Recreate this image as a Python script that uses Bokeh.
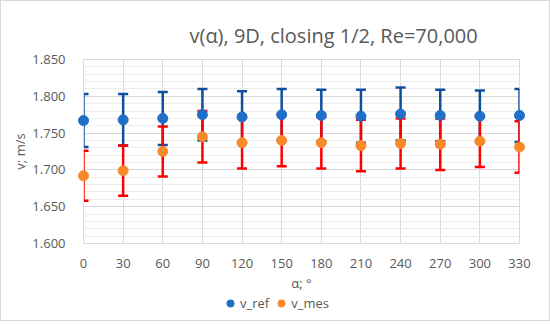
from bokeh.plotting import figure
from bokeh.layouts import column
from bokeh.models import (Range1d, SingleIntervalTicker, FixedTicker, NumeralTickFormatter,
                          Legend, LegendItem, Title, ColumnDataSource)
from bokeh.embed import file_html
from bokeh.resources import INLINE

# ---- data ----
alpha = [0, 30, 60, 90, 120, 150, 180, 210, 240, 270, 300, 330]
v_ref = [1.767, 1.768, 1.770, 1.775, 1.772, 1.775, 1.774, 1.773, 1.776, 1.774, 1.773, 1.774]
v_mes = [1.692, 1.699, 1.725, 1.745, 1.737, 1.740, 1.737, 1.733, 1.736, 1.735, 1.739, 1.731]
err_ref = [0.036, 0.035, 0.036, 0.035, 0.035, 0.035, 0.035, 0.036, 0.036, 0.035, 0.035, 0.036]
err_mes = [0.034, 0.034, 0.034, 0.035, 0.035, 0.035, 0.035, 0.035, 0.034, 0.035, 0.035, 0.035]
title_text = "v(α), 9D, closing 1/2, Re=70,000"
x_label = "α; °"
y_label = "v; m/s"
series_names = ["v_ref", "v_mes"]

FONT = "Open Sans"
TXT = "#595959"
GRID = "#D9D9D9"
C_REF = "#1F6FC8"
C_REF_ERR = "#0F4E9E"
C_MES = "#F98A2A"
C_MES_ERR = "#FF0000"
CAP = 3.8  # cap half width in x units
X0, X1 = 0, 330

p = figure(frame_width=436, frame_height=184, output_backend="svg", toolbar_location=None,
           x_range=Range1d(X0, X1), y_range=Range1d(1.6, 1.85),
           min_border_left=82, min_border_right=30, min_border_top=58, min_border_bottom=0)
p.outline_line_color = GRID

p.title = Title(text=title_text, align="left", offset=106, text_font=FONT,
                text_font_size="20px", text_color=TXT, text_font_style="normal", standoff=21)

p.xaxis.ticker = FixedTicker(ticks=alpha)
p.yaxis.ticker = SingleIntervalTicker(interval=0.05, num_minor_ticks=5)
p.yaxis.formatter = NumeralTickFormatter(format="0.000")
for ax in (p.xaxis, p.yaxis):
    ax.major_tick_line_color = None
    ax.minor_tick_line_color = None
    ax.axis_line_color = GRID
    ax.major_label_text_font = FONT
    ax.major_label_text_font_size = "13px"
    ax.major_label_text_color = TXT
    ax.axis_label_text_font = FONT
    ax.axis_label_text_font_size = "13px"
    ax.axis_label_text_color = TXT
    ax.axis_label_text_font_style = "normal"
p.xaxis.axis_label = x_label
p.yaxis.axis_label = y_label
p.xaxis.major_label_standoff = 9
p.xaxis.axis_label_standoff = 3
p.yaxis.major_label_standoff = 12
p.yaxis.axis_label_standoff = 0

p.xgrid.grid_line_color = GRID
p.ygrid.grid_line_color = GRID
p.ygrid.minor_grid_line_color = "#EDEDED"

src = ColumnDataSource(dict(
    x=alpha, ref=v_ref, mes=v_mes,
    ref_lo=[v - e for v, e in zip(v_ref, err_ref)], ref_hi=[v + e for v, e in zip(v_ref, err_ref)],
    mes_lo=[v - e for v, e in zip(v_mes, err_mes)], mes_hi=[v + e for v, e in zip(v_mes, err_mes)],
    xl=[max(a - CAP, X0) for a in alpha], xr=[min(a + CAP, X1) for a in alpha],
))

def err(lo, hi, color):
    p.segment(x0="x", y0=lo, x1="x", y1=hi, source=src, line_color=color, line_width=2.5)
    p.segment(x0="xl", y0=lo, x1="xr", y1=lo, source=src, line_color=color, line_width=2.5)
    p.segment(x0="xl", y0=hi, x1="xr", y1=hi, source=src, line_color=color, line_width=2.5)

err("ref_lo", "ref_hi", C_REF_ERR)
err("mes_lo", "mes_hi", C_MES_ERR)
p.scatter("x", "ref", source=src, size=10, fill_color=C_REF, line_color=C_REF, level="overlay")
p.scatter("x", "mes", source=src, size=10, fill_color=C_MES, line_color=C_MES, level="overlay")

# legend strip below the chart (its own small canvas so nothing clips it)
lg = figure(width=534, height=26, output_backend="svg", toolbar_location=None,
            x_range=Range1d(-1, 0), y_range=Range1d(-1, 0), min_border=0)
lg.axis.visible = False
lg.grid.visible = False
lg.outline_line_color = None
l_ref = lg.scatter("x", "ref", source=src, size=10, fill_color=C_REF, line_color=C_REF)
l_mes = lg.scatter("x", "mes", source=src, size=10, fill_color=C_MES, line_color=C_MES)
legend = Legend(items=[LegendItem(label=series_names[0], renderers=[l_ref]),
                       LegendItem(label=series_names[1], renderers=[l_mes])],
                orientation="horizontal", location=(137, 8),
                label_text_font=FONT, label_text_font_size="13px", label_text_color=TXT,
                glyph_width=20, glyph_height=18, label_standoff=0, spacing=2,
                padding=0, margin=0, border_line_color=None, background_fill_alpha=0)
lg.add_layout(legend, "center")

layout = column(p, lg, spacing=0)
layout.styles = {"border": "1px solid #D9D9D9"}

open("out.html", "w").write(file_html(layout, INLINE))
